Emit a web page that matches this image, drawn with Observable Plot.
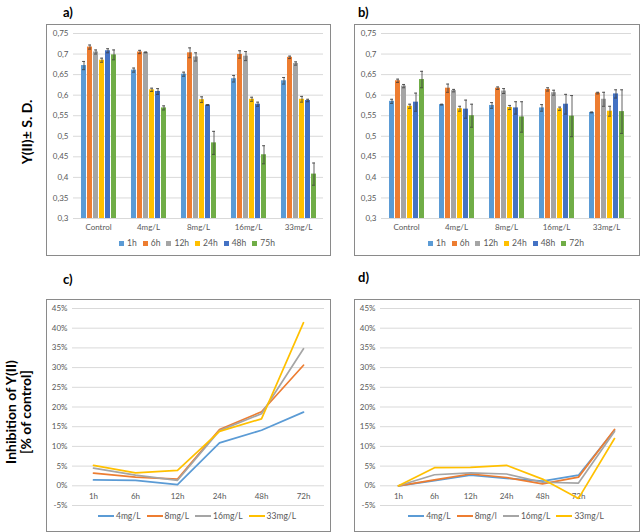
<!DOCTYPE html>
<html>
<head>
<meta charset="utf-8">
<script src="https://cdn.jsdelivr.net/npm/d3@7"></script>
<script src="https://cdn.jsdelivr.net/npm/@observablehq/plot@0.6"></script>
<style>
  html, body { margin: 0; padding: 0; background: #fff; }
  #root { position: relative; width: 641px; height: 532px; overflow: hidden; font-family: Lato, "Open Sans", sans-serif; }
  .frame { position: absolute; box-sizing: border-box; border: 1px solid #8a8a8a; }
  .svgbox { position: absolute; }
  .plab { position: absolute; font-weight: bold; font-size: 13px; color: #000; }
  .ytitle { position: absolute; transform: translate(-50%, -50%) rotate(-90deg); font-weight: bold; font-size: 14px; color: #000; white-space: nowrap; text-align: center; line-height: 15px; }
  .legend { position: absolute; display: flex; justify-content: center; align-items: center; font-size: 8.5px; color: #595959; white-space: nowrap; }
  .legend .it { display: flex; align-items: center; margin: 0 3px; }
  .legend .sq { width: 5px; height: 5px; margin-right: 3px; }
  .legend .ln { width: 16px; height: 2px; margin-right: 2px; }
</style>
</head>
<body>
<div id="root"></div>
<script>
// ---------------- DATA ----------------
const categories = ["Control", "4mg/L", "8mg/L", "16mg/L", "33mg/L"];
const seriesA = ["1h", "6h", "12h", "24h", "48h", "75h"];
const seriesB = ["1h", "6h", "12h", "24h", "48h", "72h"];
const barColors = ["#5B9BD5", "#ED7D31", "#A5A5A5", "#FFC000", "#4472C4", "#70AD47"];
const yTicksAB = [0.3, 0.35, 0.4, 0.45, 0.5, 0.55, 0.6, 0.65, 0.7, 0.75];

// panel a: mean per category (rows) x series (cols)
const meanA = [
  [0.672, 0.717, 0.705, 0.685, 0.708, 0.698],
  [0.661, 0.705, 0.704, 0.613, 0.609, 0.569],
  [0.651, 0.703, 0.693, 0.589, 0.576, 0.484],
  [0.640, 0.699, 0.695, 0.590, 0.578, 0.455],
  [0.635, 0.692, 0.677, 0.590, 0.587, 0.408]
];
const sdA = [
  [0.010, 0.005, 0.005, 0.005, 0.005, 0.012],
  [0.005, 0.004, 0.001, 0.004, 0.007, 0.005],
  [0.005, 0.012, 0.010, 0.007, 0.001, 0.028],
  [0.008, 0.009, 0.011, 0.005, 0.005, 0.022],
  [0.008, 0.003, 0.004, 0.007, 0.003, 0.027]
];
// panel b
const meanB = [
  [0.585, 0.635, 0.622, 0.573, 0.583, 0.638],
  [0.577, 0.617, 0.611, 0.567, 0.566, 0.550],
  [0.575, 0.617, 0.610, 0.570, 0.569, 0.547],
  [0.569, 0.614, 0.606, 0.567, 0.578, 0.549],
  [0.558, 0.605, 0.590, 0.561, 0.603, 0.560]
];
const sdB = [
  [0.005, 0.004, 0.004, 0.005, 0.022, 0.020],
  [0.001, 0.010, 0.003, 0.006, 0.022, 0.028],
  [0.007, 0.003, 0.006, 0.005, 0.015, 0.037],
  [0.008, 0.004, 0.006, 0.004, 0.024, 0.050],
  [0.001, 0.002, 0.017, 0.012, 0.010, 0.053]
];

// panels c & d (inhibition %)
const timesC = ["1h", "6h", "12h", "24h", "48h", "72h"];
const timesD = ["1h", "6h", "12h", "24h", "48h", "72h", ""];
const dosesC = ["4mg/L", "8mg/L", "16mg/L", "33mg/L"];
const dosesD = ["4mg/L", "8mg/l", "16mg/L", "33mg/L"];
const lineColors = ["#5B9BD5", "#ED7D31", "#A5A5A5", "#FFC000"];
const yTicksCD = [-5, 0, 5, 10, 15, 20, 25, 30, 35, 40, 45];

const c4 = [1.5, 1.4, 0.3, 10.9, 14.1, 18.7];
const c8 = [3.2, 2.2, 1.7, 14.3, 18.8, 30.6];
const c16 = [4.5, 2.7, 1.4, 14.0, 18.3, 34.8];
const c33 = [5.2, 3.3, 3.9, 13.8, 17.0, 41.4];

const d4 = [0, 1.3, 2.7, 1.9, 1.2, 2.7, 14.1];
const d8 = [0, 1.5, 3.0, 2.1, 0.5, 2.2, 14.3];
const d16 = [0, 2.8, 3.3, 3.0, 0.9, 0.7, 13.8];
const d33 = [0, 4.6, 4.7, 5.2, 1.7, -3.2, 12.0];

// ---------------- HELPERS ----------------
const root = document.getElementById("root");
function el(tag, cls, css, html) {
  const e = document.createElement(tag);
  if (cls) e.className = cls;
  Object.assign(e.style, css || {});
  if (html != null) e.innerHTML = html;
  root.appendChild(e);
  return e;
}
const fmtDec = d => d.toFixed(2).replace(/0$/, "").replace(".", ",");
const baseStyle = {fontFamily: "Lato, 'Open Sans', sans-serif", fontSize: "8px", color: "#595959", background: "transparent", overflow: "visible"};

function barPanel(left, top, mL, series, mean, sd) {
  const rows = [];
  categories.forEach((c, i) => series.forEach((s, j) => rows.push({cat: c, ser: s, v: mean[i][j], sd: sd[i][j]})));
  const p = Plot.plot({
    width: 285, height: 212,
    marginLeft: mL, marginRight: 8, marginTop: 9, marginBottom: 18,
    style: baseStyle,
    fx: {domain: categories, padding: 0, label: null, tickSize: 0, tickPadding: 6, axis: "bottom"},
    x: {domain: series, paddingInner: 0.23, paddingOuter: 0.96, axis: null},
    y: {domain: [yTicksAB[0], yTicksAB[yTicksAB.length - 1]], ticks: yTicksAB, tickFormat: fmtDec, tickSize: 0, tickPadding: 5, label: null},
    color: {domain: series, range: barColors},
    marks: [
      Plot.gridY(yTicksAB, {stroke: "#d9d9d9", strokeOpacity: 1, strokeWidth: 1}),
      Plot.barY(rows, {fx: "cat", x: "ser", y1: yTicksAB[0], y2: "v", fill: "ser"}),
      Plot.ruleX(rows, {fx: "cat", x: "ser", y1: d => d.v - d.sd, y2: d => d.v + d.sd, stroke: "#3a3a3a", strokeWidth: 0.8}),
      Plot.tickY(rows, {fx: "cat", x: "ser", y: d => d.v + d.sd, stroke: "#3a3a3a", strokeWidth: 0.8, insetLeft: 1, insetRight: 1}),
      Plot.tickY(rows, {fx: "cat", x: "ser", y: d => d.v - d.sd, stroke: "#3a3a3a", strokeWidth: 0.8, insetLeft: 1, insetRight: 1})
    ]
  });
  const box = el("div", "svgbox", {left: left + "px", top: top + "px"});
  box.appendChild(p);
}

function linePanel(left, top, mL, mR, times, doses, vals) {
  const rows = [];
  doses.forEach((d, i) => times.forEach((t, j) => rows.push({dose: d, t, v: vals[i][j]})));
  const p = Plot.plot({
    width: 285, height: 211,
    marginLeft: mL, marginRight: mR, marginTop: 9, marginBottom: 5,
    style: baseStyle,
    x: {type: "point", domain: times, padding: 0.5, axis: null},
    y: {domain: [yTicksCD[0], yTicksCD[yTicksCD.length - 1]], ticks: yTicksCD, tickFormat: d => d + "%", tickSize: 0, tickPadding: 5, label: null},
    color: {domain: doses, range: lineColors},
    marks: [
      Plot.gridY(yTicksCD, {stroke: "#d9d9d9", strokeOpacity: 1, strokeWidth: 1}),
      Plot.text(times, {x: d => d, y: 0, dy: 11, text: d => d, fill: "#595959", fontSize: 8}),
      Plot.line(rows, {x: "t", y: "v", z: "dose", stroke: "dose", strokeWidth: 1.7})
    ]
  });
  const box = el("div", "svgbox", {left: left + "px", top: top + "px"});
  box.appendChild(p);
}

function squareLegend(left, top, width, labels, colors) {
  const lg = el("div", "legend", {left: left + "px", top: top + "px", width: width + "px"});
  labels.forEach((l, i) => {
    const it = document.createElement("div"); it.className = "it";
    it.innerHTML = `<span class="sq" style="background:${colors[i]}"></span>${l}`;
    lg.appendChild(it);
  });
}
function lineLegend(left, top, width, labels, colors) {
  const lg = el("div", "legend", {left: left + "px", top: top + "px", width: width + "px"});
  labels.forEach((l, i) => {
    const it = document.createElement("div"); it.className = "it";
    it.innerHTML = `<span class="ln" style="background:${colors[i]}"></span>${l}`;
    lg.appendChild(it);
  });
}

// ---------------- LAYOUT ----------------
// frames
el("div", "frame", {left: "46px", top: "24px", width: "285px", height: "232px"});
el("div", "frame", {left: "354px", top: "24px", width: "286px", height: "232px"});
el("div", "frame", {left: "46px", top: "299px", width: "285px", height: "233px"});
el("div", "frame", {left: "354px", top: "299px", width: "286px", height: "233px"});

// panel labels
el("div", "plab", {left: "63px", top: "4px"}, "a)");
el("div", "plab", {left: "358px", top: "4px"}, "b)");
el("div", "plab", {left: "63px", top: "271px"}, "c)");
el("div", "plab", {left: "358px", top: "269px"}, "d)");

// y titles
el("div", "ytitle", {left: "26px", top: "132px"}, "Y(II)± S. D.");
el("div", "ytitle", {left: "18px", top: "412px"}, "Inhibition of Y(II)<br>[% of control]");

barPanel(46, 24, 26, seriesA, meanA, sdA);
barPanel(354, 24, 27, seriesB, meanB, sdB);
squareLegend(72, 238, 250, seriesA, barColors);
squareLegend(381, 238, 250, seriesB, barColors);

linePanel(46, 299, 26, 7, timesC, dosesC, [c4, c8, c16, c33]);
linePanel(354, 299, 26, 7, timesD, dosesD, [d4, d8, d16, d33]);
lineLegend(72, 511, 250, dosesC, lineColors);
lineLegend(380, 511, 252, dosesD, lineColors);
</script>
</body>
</html>
